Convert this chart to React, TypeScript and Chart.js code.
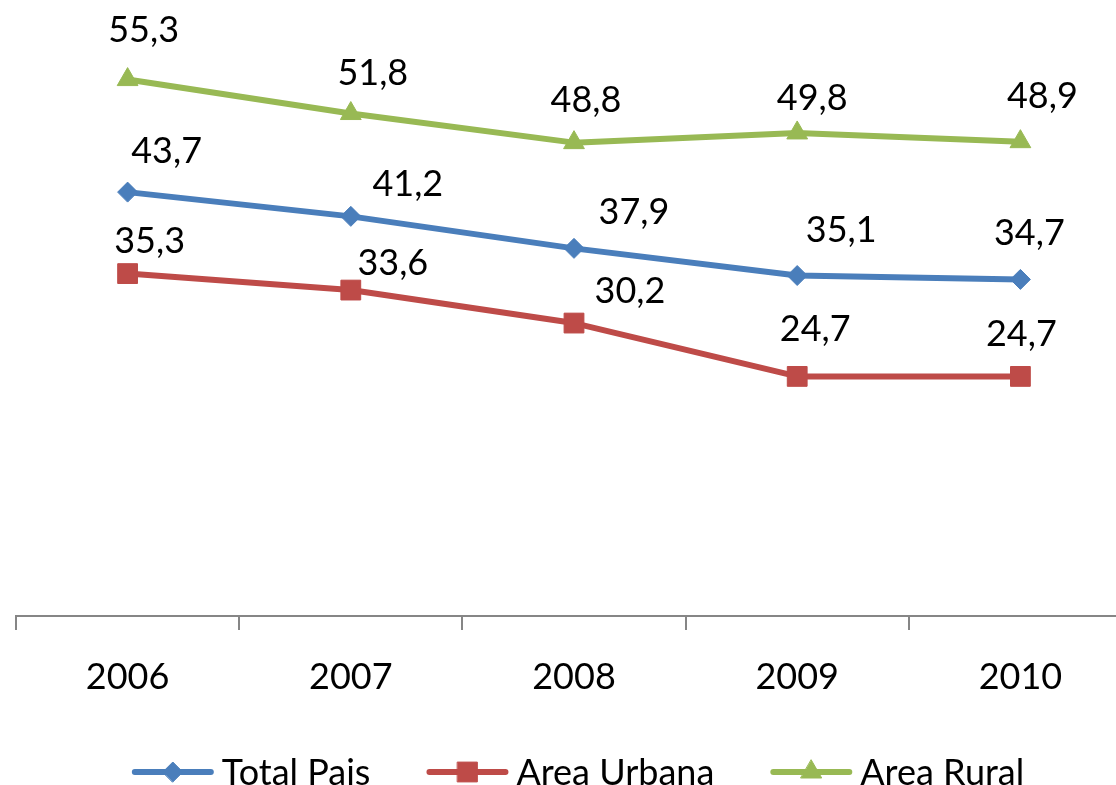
import React, { useEffect, useRef } from 'react';
import { Chart, registerables } from 'chart.js';
import { drawPoint } from 'chart.js/helpers';

Chart.register(...registerables);

// ---- data ----
const years = ['2006', '2007', '2008', '2009', '2010'];
const totalPais = [43.7, 41.2, 37.9, 35.1, 34.7];
const areaUrbana = [35.3, 33.6, 30.2, 24.7, 24.7];
const areaRural = [55.3, 51.8, 48.8, 49.8, 48.9];
const seriesNames = ['Total Pais', 'Area Urbana', 'Area Rural'];
const yMin = 0;
const yMax = 60;

// ---- label nudges (style: where each value label sits relative to its point) ----
const totalLabelNudge = [[39, -42], [57, -33], [60, -37], [44, -46], [9, -47]];
const urbanaLabelNudge = [[22, -34], [42, -28], [56, -33], [18, -48], [1, -43]];
const ruralLabelNudge = [[16, -51], [22, -42], [12, -44], [15, -36], [22, -47]];

const FONT = 'Lato, "Open Sans", sans-serif';
const FONT_SIZE = 36;

const valueLabelPlugin = {
  id: 'valueLabels',
  afterDatasetsDraw(chart: any) {
    const ctx = chart.ctx;
    ctx.save();
    ctx.font = `${FONT_SIZE}px ${FONT}`;
    ctx.fillStyle = '#000';
    ctx.textAlign = 'center';
    ctx.textBaseline = 'alphabetic';
    chart.data.datasets.forEach((ds: any, i: number) => {
      const meta = chart.getDatasetMeta(i);
      meta.data.forEach((pt: any, j: number) => {
        const [dx, dy] = ds.labelNudge[j];
        const text = Number(ds.data[j]).toFixed(1).replace('.', ',');
        ctx.fillText(text, pt.x + dx, pt.y + dy + FONT_SIZE * 0.36);
      });
    });
    ctx.restore();
  },
};

const lineLegendPlugin = {
  id: 'lineLegend',
  afterDraw(chart: any) {
    const ctx = chart.ctx;
    const area = chart.chartArea;
    ctx.save();
    ctx.font = `${FONT_SIZE}px ${FONT}`;
    const lineW = 82;
    const gapText = 8;
    const gapItem = 56;
    const items = chart.data.datasets.map((ds: any) => ({
      ds,
      w: lineW + gapText + ctx.measureText(ds.label).width,
    }));
    const total =
      items.reduce((s: number, it: any) => s + it.w, 0) + gapItem * (items.length - 1);
    let x = (area.left + area.right) / 2 + 4 - total / 2;
    const y = 772;
    items.forEach(({ ds, w }: any) => {
      ctx.strokeStyle = ds.borderColor;
      ctx.lineWidth = ds.borderWidth;
      ctx.lineCap = 'round';
      ctx.beginPath();
      ctx.moveTo(x + 3, y);
      ctx.lineTo(x + lineW - 3, y);
      ctx.stroke();
      ctx.fillStyle = ds.pointBackgroundColor;
      ctx.strokeStyle = ds.pointBorderColor;
      ctx.lineWidth = 1;
      drawPoint(ctx, { pointStyle: ds.pointStyle, radius: ds.pointRadius, rotation: 0, borderWidth: 1 } as any, x + lineW / 2, y);
      ctx.fillStyle = '#000';
      ctx.textAlign = 'left';
      ctx.textBaseline = 'alphabetic';
      ctx.fillText(ds.label, x + lineW + gapText, y + FONT_SIZE * 0.36);
      x += w + gapItem;
    });
    ctx.restore();
  },
};

function makeDataset(label: string, data: number[], color: string, style: string, radius: number, nudge: number[][]) {
  return {
    label,
    data,
    borderColor: color,
    backgroundColor: color,
    borderWidth: 6,
    borderJoinStyle: 'round',
    borderCapStyle: 'round',
    pointStyle: style,
    pointRadius: radius,
    pointHoverRadius: radius,
    pointBackgroundColor: color,
    pointBorderColor: color,
    pointBorderWidth: 1,
    tension: 0,
    fill: false,
    labelNudge: nudge,
  };
}

export default function App() {
  const canvasRef = useRef<HTMLCanvasElement | null>(null);

  useEffect(() => {
    const canvas = canvasRef.current;
    if (!canvas) return;
    const chart = new Chart(canvas, {
      type: 'line',
      data: {
        labels: years,
        datasets: [
          makeDataset(seriesNames[0], totalPais, '#4A7EBB', 'rectRot', 10, totalLabelNudge),
          makeDataset(seriesNames[1], areaUrbana, '#BE4B48', 'rect', 14, urbanaLabelNudge),
          makeDataset(seriesNames[2], areaRural, '#98B954', 'triangle', 12, ruralLabelNudge),
        ] as any,
      },
      options: {
        responsive: false,
        animation: false,
        devicePixelRatio: 1,
        layout: { padding: { top: 34, left: 16, right: 4, bottom: 0 } },
        plugins: {
          legend: { display: false },
          tooltip: { enabled: false },
        },
        scales: {
          x: {
            offset: true,
            grid: {
              display: true,
              drawOnChartArea: false,
              drawTicks: true,
              tickLength: 14,
              color: '#868686',
              lineWidth: 2,
              offset: true,
            },
            border: { display: true, color: '#868686', width: 2 },
            ticks: {
              font: { family: FONT, size: FONT_SIZE },
              color: '#000',
              padding: 26,
              maxRotation: 0,
              autoSkip: false,
            },
            afterFit: (s: any) => {
              s.height = 169;
            },
          },
          y: { display: false, min: yMin, max: yMax },
        },
      } as any,
      plugins: [valueLabelPlugin, lineLegendPlugin],
    });
    return () => chart.destroy();
  }, []);

  return (
    <div
      style={{
        position: 'fixed',
        left: 0,
        top: 0,
        width: 1116,
        height: 785,
        overflow: 'hidden',
        background: '#fff',
      }}
    >
      <canvas ref={canvasRef} width={1147} height={785} style={{ display: 'block' }} />
    </div>
  );
}
